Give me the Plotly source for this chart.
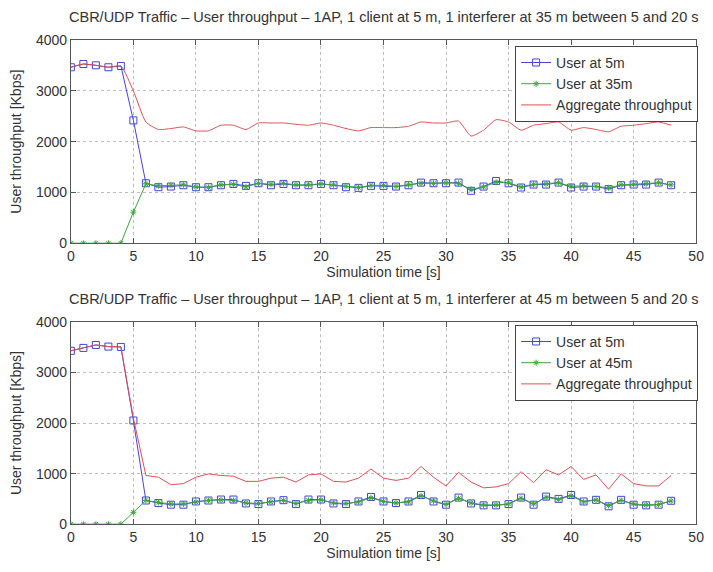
import plotly.graph_objects as go

# Simulation time axis (s)
time_s = list(range(0, 49))

# Scenario 1: interferer at 35 m
top_user5 = [3465, 3529, 3503, 3465, 3490, 2419, 1181, 1103, 1116, 1142, 1103, 1103, 1142, 1168, 1129,
             1181, 1142, 1168, 1142, 1142, 1168, 1142, 1103, 1090, 1129, 1129, 1116, 1142, 1194, 1181,
             1181, 1194, 1032, 1116, 1226, 1181, 1097, 1155, 1155, 1194, 1097, 1116, 1116, 1065, 1142,
             1155, 1155, 1194, 1142]
top_user35 = [0, 0, 0, 0, 0, 613, 1170, 1130, 1140, 1150, 1110, 1100, 1150, 1160, 1110,
              1180, 1160, 1180, 1150, 1150, 1170, 1150, 1120, 1100, 1140, 1140, 1120, 1150, 1180, 1180,
              1190, 1180, 1060, 1110, 1200, 1190, 1110, 1160, 1170, 1190, 1120, 1130, 1120, 1090, 1150,
              1160, 1170, 1190, 1150]
top_aggregate = [3465, 3529, 3503, 3465, 3490, 3000, 2387, 2239, 2258, 2290, 2213, 2213, 2323, 2323, 2239,
                 2368, 2368, 2368, 2342, 2323, 2368, 2323, 2258, 2213, 2277, 2277, 2277, 2303, 2387, 2368,
                 2368, 2406, 2110, 2226, 2432, 2387, 2226, 2323, 2355, 2387, 2226, 2277, 2239, 2194, 2303,
                 2323, 2355, 2387, 2323]

# Scenario 2: interferer at 45 m
bot_user5 = [3429, 3487, 3545, 3513, 3506, 2051, 468, 417, 385, 385, 449, 468, 487, 487, 410,
             397, 449, 474, 397, 487, 487, 410, 397, 449, 538, 449, 417, 449, 577, 449,
             385, 526, 410, 372, 372, 397, 526, 385, 545, 500, 577, 449, 481, 353, 481,
             385, 372, 385, 462]
bot_user45 = [0, 0, 0, 0, 0, 234, 470, 430, 400, 400, 440, 470, 480, 470, 420,
              410, 440, 470, 410, 470, 480, 420, 410, 440, 520, 450, 420, 440, 560, 460,
              390, 510, 420, 380, 380, 400, 510, 400, 530, 490, 560, 440, 480, 370, 470,
              400, 380, 390, 460]
bot_aggregate = [3429, 3487, 3545, 3513, 3506, 2100, 962, 929, 782, 801, 929, 994, 962, 949, 846,
                 846, 910, 929, 833, 974, 994, 846, 833, 910, 1090, 910, 865, 910, 1141, 929,
                 756, 1026, 833, 718, 737, 801, 1038, 821, 1077, 974, 1141, 885, 974, 692, 994,
                 801, 756, 756, 962]

titles = [
    "CBR/UDP Traffic – User throughput – 1AP, 1 client at 5 m, 1 interferer at 35 m between 5 and 20 s",
    "CBR/UDP Traffic – User throughput – 1AP, 1 client at 5 m, 1 interferer at 45 m between 5 and 20 s",
]
x_ticks = [0, 5, 10, 15, 20, 25, 30, 35, 40, 45, 50]
y_ticks = [0, 1000, 2000, 3000, 4000]

FONT = "Liberation Sans, Arial, sans-serif"
BLUE = "#4444d8"
GREEN = "#3aa83a"
RED = "#e05050"
TXT = "#333333"

fig = go.Figure()

panels = [
    ("x", "y", "legend", "User at 35m", top_user5, top_user35, top_aggregate, "spline"),
    ("x2", "y2", "legend2", "User at 45m", bot_user5, bot_user45, bot_aggregate, "linear"),
]
for xa, ya, lg, far_name, u5, uf, agg, shape in panels:
    fig.add_trace(go.Scatter(
        x=time_s, y=u5, name="User at 5m", xaxis=xa, yaxis=ya, legend=lg,
        mode="lines+markers", line=dict(color=BLUE, width=1),
        marker=dict(symbol="square-open", size=7, color=BLUE, line=dict(width=1, color=BLUE)),
    ))
    fig.add_trace(go.Scatter(
        x=time_s, y=uf, name=far_name, xaxis=xa, yaxis=ya, legend=lg,
        mode="lines+markers", line=dict(color=GREEN, width=1),
        marker=dict(symbol="asterisk-open", size=5, color=GREEN, line=dict(width=1, color=GREEN)),
    ))
    fig.add_trace(go.Scatter(
        x=time_s, y=agg, name="Aggregate throughput", xaxis=xa, yaxis=ya, legend=lg,
        mode="lines", line=dict(color=RED, width=1, shape=shape, smoothing=0.5),
    ))

axis_common = dict(
    showline=True, mirror="ticks", linecolor="#555555", linewidth=1,
    ticks="inside", ticklen=5, tickcolor="#555555",
    showgrid=True, gridcolor="#bdbdbd", griddash="dot", gridwidth=1,
    zeroline=False, tickfont=dict(family=FONT, size=14, color=TXT),
)

W, H = 713, 572
# pixel rectangles of the two plotting areas
left, right = 68, 704
top_rect = (33, 242)
bot_rect = (323, 531)


def ydom(rect):
    return [(H - rect[1]) / H, (H - rect[0]) / H]


xdom = [left / W, right / W]
xtitle = dict(text="Simulation time [s]", standoff=3, font=dict(size=14))
ytitle = dict(text="User throughput [Kbps]", standoff=10, font=dict(size=14))
legend_style = dict(xanchor="right", yanchor="top", bgcolor="white",
                    bordercolor="#444444", borderwidth=1,
                    font=dict(family=FONT, size=14, color=TXT), itemwidth=30, tracegroupgap=0)

fig.update_layout(
    width=W, height=H,
    margin=dict(l=0, r=0, t=0, b=0),
    paper_bgcolor="white", plot_bgcolor="white",
    font=dict(family=FONT, size=14, color=TXT),
    xaxis=dict(domain=xdom, anchor="y", range=[0, 50], tickvals=x_ticks, title=xtitle, **axis_common),
    yaxis=dict(domain=ydom(top_rect), anchor="x", range=[0, 4000], tickvals=y_ticks, title=ytitle, **axis_common),
    xaxis2=dict(domain=xdom, anchor="y2", range=[0, 50], tickvals=x_ticks, title=xtitle, **axis_common),
    yaxis2=dict(domain=ydom(bot_rect), anchor="x2", range=[0, 4000], tickvals=y_ticks, title=ytitle, **axis_common),
    legend=dict(x=706 / W, y=1 - 39 / H, **legend_style),
    legend2=dict(x=706 / W, y=1 - 326 / H, **legend_style),
    showlegend=True,
)

for title, rect in zip(titles, [top_rect, bot_rect]):
    fig.add_annotation(
        text=title, xref="paper", yref="paper",
        x=(left + right) / 2 / W, y=(H - rect[0] + 13) / H,
        xanchor="center", yanchor="bottom", showarrow=False,
        font=dict(family=FONT, size=14.5, color=TXT),
    )

fig.write_html("out.html")
